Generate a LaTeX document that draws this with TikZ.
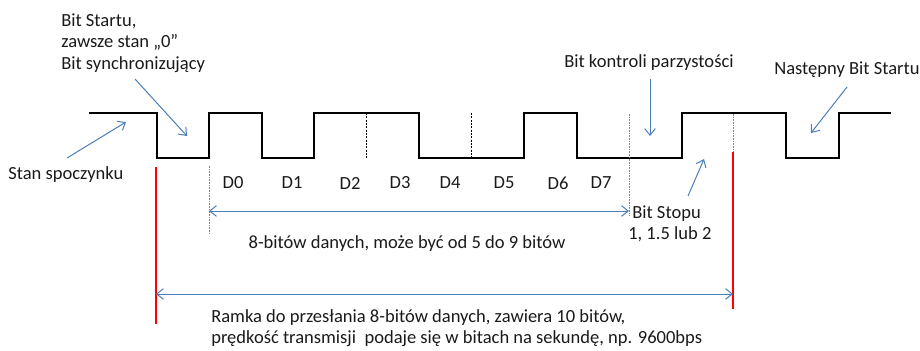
\documentclass[tikz,border=0pt]{standalone}
\usepackage{fontspec}
\setmainfont{Carlito}
\usetikzlibrary{arrows.meta}
\definecolor{arrowblue}{HTML}{4A7EBB}
\definecolor{txt}{HTML}{1A1A1A}
\begin{document}
\begin{tikzpicture}[x=0.75pt,y=-0.75pt,
  lbl/.style={inner sep=0pt, text=txt, font=\fontsize{13.9}{16.1}\selectfont, align=left},
  wave/.style={line width=1.8pt, line join=miter},
  bluearrow/.style={draw=arrowblue, line width=0.75pt, -{Straight Barb[length=5pt,width=8pt]}},
  dimarrow/.style={draw=arrowblue, line width=0.75pt, {Straight Barb[length=5pt,width=8pt]}-{Straight Barb[length=5pt,width=8pt]}},
  gridline/.style={draw=gray, line width=0.7pt, dash pattern=on 1.2pt off 0.8pt},
  bitsep/.style={draw=black, line width=0.4pt, dash pattern=on 1.5pt off 1pt},
  redline/.style={draw=red, line width=2pt}]
\useasboundingbox (0,0) rectangle (920,350);

% waveform
\draw[wave] (89,113) -- (157,113) -- (157,158) -- (209,158) -- (209,113) -- (262,113)
  -- (262,158) -- (314,158) -- (314,113) -- (419,113) -- (419,158) -- (524,158)
  -- (524,113) -- (577,113) -- (577,158) -- (682,158) -- (682,113) -- (786,113)
  -- (786,158) -- (839,158) -- (839,113) -- (891,113);

% bit separators
\draw[bitsep] (366,113) -- (366,158);
\draw[bitsep] (471,113) -- (471,158);

% vertical reference lines
\coordinate (g0top) at (209,166);
\coordinate (g0bot) at (209,234);
\coordinate (g1top) at (629,114);
\coordinate (g1bot) at (629,216);
\coordinate (g2top) at (733,114);
\coordinate (g2bot) at (733,152);
\draw[gridline] (g0top) -- (g0bot);
\draw[gridline] (g1top) -- (g1bot);
\draw[gridline] (g2top) -- (g2bot);

\coordinate (r0top) at (156,167);
\coordinate (r0bot) at (156,324);
\coordinate (r1top) at (733,152);
\coordinate (r1bot) at (733,309);
\draw[redline] (r0top) -- (r0bot);
\draw[redline] (r1top) -- (r1bot);

% data labels
\foreach \n/\x in {0/233,1/292,2/350,3/400,4/450,5/504,6/558,7/601}
  \node[lbl] (d\n) at (\x,183) {D\n};

% dimension arrows
\coordinate (da) at (209,211);
\coordinate (db) at (629,211);
\draw[dimarrow] (da) -- (db);
\node[lbl] (datatxt) at (407,244) {8-bitów danych, może być od 5 do 9 bitów};

\coordinate (fa) at (156,294);
\coordinate (fb) at (733,294);
\draw[dimarrow] (fa) -- (fb);
\node[lbl, anchor=west] (frametxt) at (211,328) {Ramka do przesłania 8-bitów danych, zawiera 10 bitów,\\prędkość transmisji\ \ podaje się w bitach na sekundę, np. 9600bps};

% annotations
\node[lbl, anchor=west] (starttxt) at (61,43) {Bit Startu,\\zawsze stan „0”\\Bit synchronizujący};
\node[lbl, anchor=west] (idletxt) at (8,175) {Stan spoczynku};
\node[lbl, anchor=west] (paritytxt) at (564,63) {Bit kontroli parzystości};
\node[lbl, anchor=west] (nexttxt) at (774,70) {Następny Bit Startu};
\node[lbl, anchor=west] (stoptxt) at (632,224) {Bit Stopu\\\kern-3pt 1, 1.5 lub 2};

\coordinate (idleS) at (67,158);
\coordinate (idleE) at (126,122);
\draw[bluearrow] (idleS) -- (idleE);
\coordinate (startS) at (135,79);
\coordinate (startE) at (187,136);
\draw[bluearrow] (startS) -- (startE);
\coordinate (parS) at (650,79);
\coordinate (parE) at (650,136);
\draw[bluearrow] (parS) -- (parE);
\coordinate (stopS) at (688,196);
\coordinate (stopE) at (704,159);
\draw[bluearrow] (stopS) -- (stopE);
\coordinate (nextS) at (847,87);
\coordinate (nextE) at (811,133);
\draw[bluearrow] (nextS) -- (nextE);
\end{tikzpicture}
\end{document}
